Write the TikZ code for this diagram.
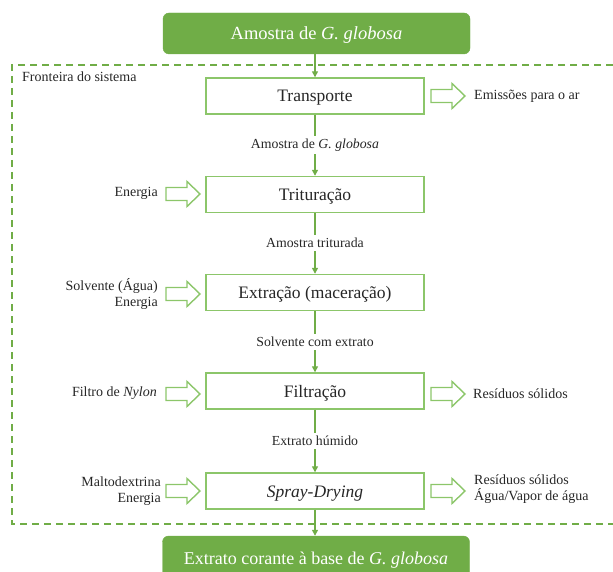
\documentclass[tikz,border=0pt]{standalone}
\usepackage{fontspec}
\setmainfont{Liberation Serif}
\usetikzlibrary{arrows.meta}
\definecolor{leaf}{HTML}{70AD47}
\definecolor{leaflight}{HTML}{8CC66A}
\definecolor{ink}{HTML}{262626}
\begin{document}
\begin{tikzpicture}[x=1pt,y=-1pt,
  endbox/.style={fill=leaf,draw=leaf,rounded corners=6pt,text=white,
    minimum width=307pt,minimum height=41pt,inner sep=0pt,text height=12.5pt,text depth=0pt},
  procbox/.style={draw=leaflight,line width=1.4pt,fill=white,text=ink,
    font=\fontsize{17.5}{20}\selectfont,minimum width=218pt,minimum height=36pt,inner sep=0pt,
    text height=12pt,text depth=0pt},
  flowlabel/.style={text=ink,font=\fontsize{13.8}{15}\selectfont,inner sep=3pt},
  sidelabel/.style={text=ink,font=\fontsize{14}{16.5}\selectfont,inner sep=0pt},
  flow/.style={draw=leaf,line width=1.3pt},
  flowarrow/.style={flow,-{Triangle[length=6pt,width=6pt]}},
  boundary/.style={draw=leaf,line width=1.5pt,dash pattern=on 7pt off 5pt},
  harrow/.pic={\draw[leaflight,line width=1.4pt,line join=miter]
    (0,-6.5) -- (21,-6.5) -- (21,-12.5) -- (34,0) -- (21,12.5) -- (21,6.5) -- (0,6.5) -- cycle;}
]
\useasboundingbox (0,0) rectangle (613,572);

% system boundary
\draw[boundary] (625,65) -- (12,65) -- (12,524) -- (625,524);
\node[sidelabel,anchor=west] (frontier) at (22,77) {Fronteira do sistema};

% input and output of the system
\node[endbox,font=\fontsize{18.5}{20}\selectfont] (sample) at (316.5,33.5) {Amostra de \textit{G. globosa}};
\node[endbox,font=\fontsize{18}{20}\selectfont,minimum height=44pt] (product) at (316,558) {Extrato corante à base de \textit{G. globosa}};

% process steps
\node[procbox] (transp) at (315,96) {Transporte};
\node[procbox] (trit)   at (315,194.5) {Trituração};
\node[procbox] (extr)   at (315,292.5) {Extração (maceração)};
\node[procbox] (filt)   at (315,391) {Filtração};
\node[procbox] (spray)  at (315,491) {\textit{Spray-Drying}};

% intermediate streams
\node[flowlabel] (s1) at (315,145) {Amostra de \textit{G. globosa}};
\node[flowlabel] (s2) at (315,243) {Amostra triturada};
\node[flowlabel] (s3) at (315,342) {Solvente com extrato};
\node[flowlabel] (s4) at (315,441) {Extrato húmido};

% main flow
\draw[flowarrow] (sample.south -| transp.north) -- (transp.north);
\draw[flow] (transp.south) -- (s1.north);
\draw[flowarrow] (s1.south) -- (trit.north);
\draw[flow] (trit.south) -- (s2.north);
\draw[flowarrow] (s2.south) -- (extr.north);
\draw[flow] (extr.south) -- (s3.north);
\draw[flowarrow] (s3.south) -- (filt.north);
\draw[flow] (filt.south) -- (s4.north);
\draw[flowarrow] (s4.south) -- (spray.north);
\draw[flowarrow] (spray.south) -- (spray.south |- product.north);

% inputs
\pic at (166,194) {harrow};
\node[sidelabel,anchor=east] (in1) at (158,193) {Energia};
\pic at (166,294) {harrow};
\node[sidelabel,anchor=east,align=right] (in2) at (158,294) {Solvente (Água)\\Energia};
\pic at (166,394) {harrow};
\node[sidelabel,anchor=east] (in3) at (157,393) {Filtro de \textit{Nylon}};
\pic at (166,491) {harrow};
\node[sidelabel,anchor=east,align=right] (in4) at (161,491) {Maltodextrina\\Energia};

% outputs
\pic at (431,96) {harrow};
\node[sidelabel,anchor=west] (out1) at (474,96) {Emissões para o ar};
\pic at (431,394) {harrow};
\node[sidelabel,anchor=west] (out2) at (473,394) {Resíduos sólidos};
\pic at (431,491) {harrow};
\node[sidelabel,anchor=west,align=left] (out3) at (474,489) {Resíduos sólidos\\Água/Vapor de água};
\end{tikzpicture}
\end{document}
